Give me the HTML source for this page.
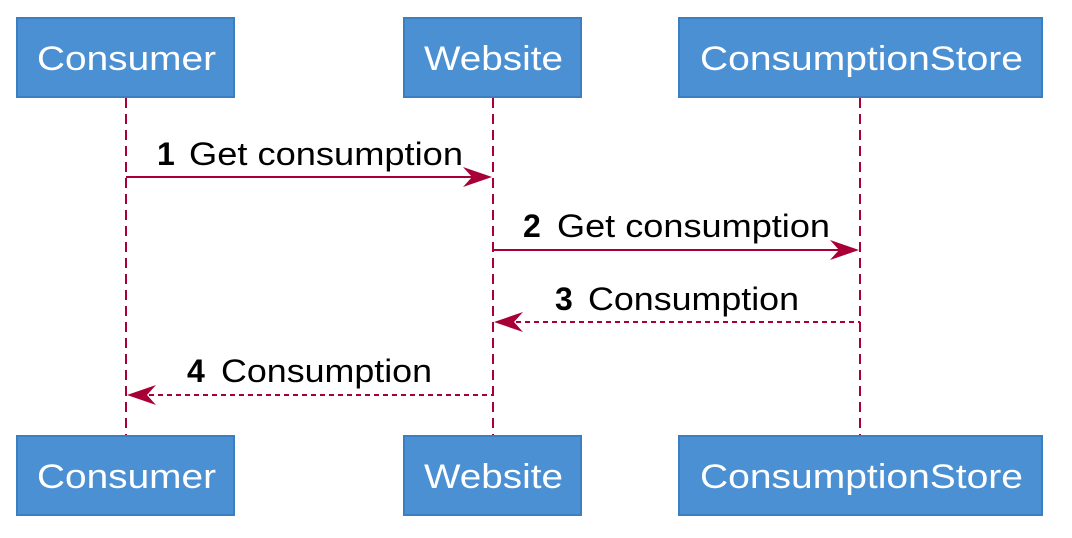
<!DOCTYPE html>
<html><head><meta charset="utf-8"><style>html,body{margin:0;padding:0;background:#fff}svg{display:block}</style></head>
<body>
<svg width="1072" height="538" viewBox="0 0 1072 538" xmlns="http://www.w3.org/2000/svg" font-family="'Liberation Sans', sans-serif">
<g stroke="#a80036" stroke-width="2" stroke-dasharray="10,6" fill="none">
<line x1="126" y1="98" x2="126" y2="436"/>
<line x1="493" y1="98" x2="493" y2="436"/>
<line x1="860" y1="98" x2="860" y2="436"/>
</g>
<g fill="#4a90d3" stroke="#3b7fc2" stroke-width="2">
<rect x="17" y="18" width="217" height="79"/>
<rect x="404" y="18" width="177" height="79"/>
<rect x="679" y="18" width="363" height="79"/>
<rect x="17" y="436" width="217" height="79"/>
<rect x="404" y="436" width="177" height="79"/>
<rect x="679" y="436" width="363" height="79"/>
</g>
<g fill="#fff" font-size="34">
<text x="37" y="70" textLength="179" lengthAdjust="spacingAndGlyphs">Consumer</text>
<text x="424" y="70" textLength="139" lengthAdjust="spacingAndGlyphs">Website</text>
<text x="700" y="70" textLength="323" lengthAdjust="spacingAndGlyphs">ConsumptionStore</text>
<text x="37" y="488" textLength="179" lengthAdjust="spacingAndGlyphs">Consumer</text>
<text x="424" y="488" textLength="139" lengthAdjust="spacingAndGlyphs">Website</text>
<text x="700" y="488" textLength="323" lengthAdjust="spacingAndGlyphs">ConsumptionStore</text>
</g>
<g stroke="#a80036" stroke-width="2" fill="none">
<line x1="126" y1="177" x2="488" y2="177"/>
<line x1="493" y1="250" x2="855" y2="250"/>
<line x1="498" y1="322" x2="860" y2="322" stroke-dasharray="5,4"/>
<line x1="131" y1="395" x2="493" y2="395" stroke-dasharray="5,4"/>
</g>
<g fill="#a80036">
<path d="M492,177 L463,167 L472,177 L463,187 Z"/>
<path d="M859,250 L830,240 L839,250 L830,260 Z"/>
<path d="M494,322 L523,312 L514,322 L523,332 Z"/>
<path d="M127,395 L156,385 L147,395 L156,405 Z"/>
</g>
<g fill="#000" font-size="32">
<text x="157" y="165" font-weight="bold">1</text>
<text x="189" y="165" textLength="274" lengthAdjust="spacingAndGlyphs">Get consumption</text>
<text x="523" y="237" font-weight="bold">2</text>
<text x="557" y="237" textLength="273" lengthAdjust="spacingAndGlyphs">Get consumption</text>
<text x="555" y="310" font-weight="bold">3</text>
<text x="588" y="310" textLength="211" lengthAdjust="spacingAndGlyphs">Consumption</text>
<text x="187" y="382" font-weight="bold">4</text>
<text x="221" y="382" textLength="211" lengthAdjust="spacingAndGlyphs">Consumption</text>
</g>
</svg>
</body></html>
